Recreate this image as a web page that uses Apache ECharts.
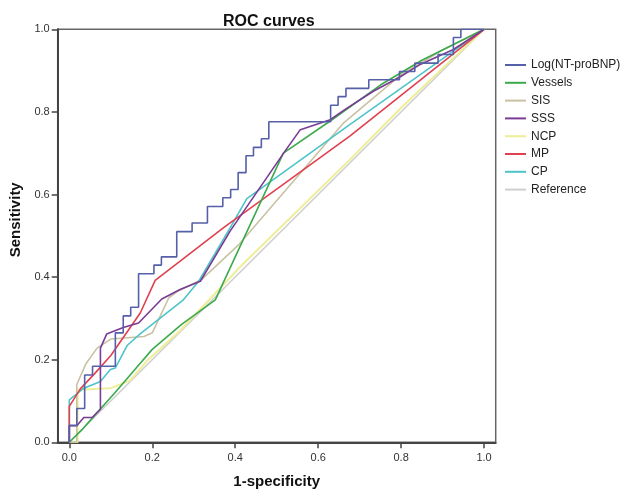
<!DOCTYPE html>
<html>
<head>
<meta charset="utf-8">
<script src="https://cdn.jsdelivr.net/npm/echarts@6/dist/echarts.min.js"></script>
<style>
html,body{margin:0;padding:0;background:#fff;}
#chart{width:630px;height:503px;}
</style>
</head>
<body>
<div id="chart"></div>
<script>
// ---- data ----
const xTicks = [0, 0.2, 0.4, 0.6, 0.8, 1.0];
const yTicks = [0, 0.2, 0.4, 0.6, 0.8, 1.0];

const logX = [0,0,0.018,0.018,0.037,0.037,0.056,0.056,0.111,0.111,0.13,0.13,0.148,0.148,0.167,0.167,0.204,0.204,0.222,0.222,0.259,0.259,0.296,0.296,0.333,0.333,0.37,0.37,0.389,0.389,0.407,0.407,0.426,0.426,0.444,0.444,0.463,0.463,0.481,0.481,0.63,0.63,0.648,0.648,0.667,0.667,0.722,0.722,0.796,0.796,0.833,0.833,0.889,0.889,0.926,0.926,0.944,0.944,1];
const logY = [0,0.041,0.041,0.082,0.082,0.163,0.163,0.184,0.184,0.265,0.265,0.306,0.306,0.327,0.327,0.408,0.408,0.429,0.429,0.449,0.449,0.51,0.51,0.531,0.531,0.571,0.571,0.592,0.592,0.612,0.612,0.653,0.653,0.694,0.694,0.714,0.714,0.735,0.735,0.776,0.776,0.816,0.816,0.837,0.837,0.857,0.857,0.878,0.878,0.898,0.898,0.918,0.918,0.939,0.939,0.98,0.98,1,1];

const vesselsX = [0,0.03,0.06,0.11,0.17,0.2,0.27,0.352,0.412,0.516,0.629,0.75,0.85,1];
const vesselsY = [0,0.03,0.064,0.12,0.19,0.225,0.285,0.345,0.475,0.70,0.778,0.865,0.925,1];

const sisX = [0,0.018,0.018,0.04,0.067,0.1,0.18,0.2,0.24,0.26,0.32,0.41,0.66,0.8,0.9,1];
const sisY = [0,0,0.14,0.19,0.228,0.25,0.256,0.265,0.35,0.365,0.395,0.48,0.772,0.89,0.95,1];

const sssX = [0,0,0.018,0.035,0.055,0.075,0.075,0.09,0.13,0.167,0.223,0.267,0.316,0.388,0.52,0.557,0.629,0.665,0.733,0.798,0.846,0.926,1];
const sssY = [0,0.04,0.04,0.06,0.06,0.08,0.228,0.262,0.278,0.289,0.347,0.37,0.39,0.512,0.705,0.757,0.781,0.806,0.85,0.885,0.915,0.951,1];

const ncpX = [0,0.02,0.02,0.1,0.147,0.19,0.267,0.412,0.677,0.8,1];
const ncpY = [0,0,0.127,0.131,0.15,0.2,0.27,0.425,0.685,0.81,1];

const mpX = [0,0,0.027,0.06,0.1,0.131,0.171,0.207,0.372,0.677,1];
const mpY = [0,0.087,0.13,0.165,0.21,0.255,0.313,0.392,0.52,0.742,1];

const cpX = [0,0,0.035,0.075,0.099,0.111,0.14,0.17,0.275,0.312,0.388,0.428,0.677,1];
const cpY = [0,0.103,0.131,0.147,0.176,0.18,0.235,0.262,0.345,0.39,0.52,0.59,0.77,1];

const refX = [0,1];
const refY = [0,1];

const seriesNames = ['Log(NT-proBNP)','Vessels','SIS','SSS','NCP','MP','CP','Reference'];
const seriesColors = ['#5660a8','#3caa4c','#c9c2a2','#7a3b95','#eeee99','#e0404f','#4cc4c8','#cfcfcf'];

// ---- build ----
function pairs(xs, ys){ return xs.map((x,i)=>[x, ys[i]]); }
const seriesData = {
  'Log(NT-proBNP)': pairs(logX, logY),
  'Vessels': pairs(vesselsX, vesselsY),
  'SIS': pairs(sisX, sisY),
  'SSS': pairs(sssX, sssY),
  'NCP': pairs(ncpX, ncpY),
  'MP': pairs(mpX, mpY),
  'CP': pairs(cpX, cpY),
  'Reference': pairs(refX, refY)
};
const drawOrder = ['Reference','NCP','SIS','CP','MP','Vessels','SSS','Log(NT-proBNP)'];
const FONT = '"Liberation Sans", Arial, Helvetica, sans-serif';

const series = drawOrder.map(name => {
  const c = seriesColors[seriesNames.indexOf(name)];
  return {
    name: name,
    type: 'line',
    data: seriesData[name],
    symbol: 'none',
    smooth: false,
    lineStyle: { color: c, width: name === 'NCP' ? 2 : 1.6 },
    itemStyle: { color: c },
    z: 2 + drawOrder.indexOf(name)
  };
});

const chart = echarts.init(document.getElementById('chart'), null, {renderer: 'canvas'});
chart.setOption({
  animation: false,
  backgroundColor: '#ffffff',
  textStyle: { fontFamily: FONT },
  title: {
    text: 'ROC curves',
    left: 218,
    top: 9,
    textStyle: { fontFamily: FONT, fontSize: 16, fontWeight: 'bold', color: '#111' }
  },
  legend: {
    orient: 'vertical',
    left: 505,
    top: 58,
    padding: 0,
    itemWidth: 21,
    itemHeight: 2,
    itemGap: 3.8,
    icon: 'rect',
    data: seriesNames,
    textStyle: { fontFamily: FONT, fontSize: 12, lineHeight: 14, color: '#222' }
  },
  grid: {
    left: 57.7,
    right: 134.3,
    top: 29.3,
    bottom: 60.7,
    show: true,
    borderColor: '#666',
    borderWidth: 1.5,
    backgroundColor: 'transparent'
  },
  xAxis: {
    type: 'value',
    min: -0.028,
    max: 1.028,
    name: '1-specificity',
    nameLocation: 'middle',
    nameGap: 32,
    nameTextStyle: { fontFamily: FONT, fontSize: 15, fontWeight: 'bold', color: '#111' },
    axisLine: { show: true, onZero: false, lineStyle: { color: '#444', width: 2 } },
    axisTick: { show: true, customValues: xTicks, length: 6, lineStyle: { color: '#444', width: 1.5 } },
    axisLabel: { customValues: xTicks, formatter: v => v.toFixed(1), fontSize: 11, color: '#333', margin: 10, fontFamily: FONT },
    splitLine: { show: false }
  },
  yAxis: {
    type: 'value',
    min: 0,
    max: 1,
    interval: 0.2,
    name: 'Sensitivity',
    nameLocation: 'middle',
    nameGap: 26,
    nameTextStyle: { fontFamily: FONT, fontSize: 15, fontWeight: 'bold', color: '#111', padding: [0, 0, 0, 32] },
    axisLine: { show: true, onZero: false, lineStyle: { color: '#444', width: 2 } },
    axisTick: { show: true, customValues: yTicks, length: 6, lineStyle: { color: '#444', width: 1.5 } },
    axisLabel: { customValues: yTicks, formatter: v => v.toFixed(1), fontSize: 11, color: '#333', margin: 8, fontFamily: FONT },
    splitLine: { show: false }
  },
  series: series
});
</script>
</body>
</html>
